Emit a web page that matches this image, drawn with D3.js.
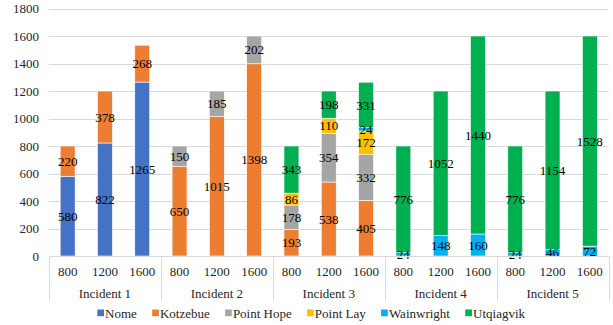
<!DOCTYPE html>
<html>
<head>
<meta charset="utf-8">
<script src="https://cdn.jsdelivr.net/npm/d3@7"></script>
<style>
  html, body { margin: 0; padding: 0; background: #fff; }
  svg, svg text { font-family: 'Liberation Serif', 'Times New Roman', Times, serif; }
</style>
</head>
<body>
<svg id="chart" width="613" height="325"></svg>
<script>
// Incidents and the response sizes tested in each
const incidents = ["Incident 1", "Incident 2", "Incident 3", "Incident 4", "Incident 5"];
const sizes = ["800", "1200", "1600"];
const seriesNames = ["Nome", "Kotzebue", "Point Hope", "Point Lay", "Wainwright", "Utqiagvik"];
const seriesColors = ["#4472C4", "#ED7D31", "#A5A5A5", "#FFC000", "#00B0F0", "#00B050"];

// Values per bar, ordered Incident 1 (800, 1200, 1600) ... Incident 5 (800, 1200, 1600)
const nome       = [580, 822, 1265,   0,    0,    0,   0,   0,   0,   0,    0,    0,   0,    0,    0];
const kotzebue   = [220, 378,  268, 650, 1015, 1398, 193, 538, 405,   0,    0,    0,   0,    0,    0];
const pointHope  = [  0,   0,    0, 150,  185,  202, 178, 354, 332,   0,    0,    0,   0,    0,    0];
const pointLay   = [  0,   0,    0,   0,    0,    0,  86, 110, 172,   0,    0,    0,   0,    0,    0];
const wainwright = [  0,   0,    0,   0,    0,    0,   0,   0,  24,  24,  148,  160,  24,   46,   72];
const utqiagvik  = [  0,   0,    0,   0,    0,    0, 343, 198, 331, 776, 1052, 1440, 776, 1154, 1528];

const yTicks = [0, 200, 400, 600, 800, 1000, 1200, 1400, 1600, 1800];

const seriesValues = [nome, kotzebue, pointHope, pointLay, wainwright, utqiagvik];
const FONT = "'Liberation Serif', 'Times New Roman', Times, serif";

// Build one row per bar for the stack layout
const rows = [];
incidents.forEach((inc, gi) => {
  sizes.forEach((sz, si) => {
    const idx = gi * sizes.length + si;
    const row = { incident: inc, size: sz };
    seriesNames.forEach((name, k) => { row[name] = seriesValues[k][idx]; });
    rows.push(row);
  });
});

const svg = d3.select("#chart").attr("font-family", FONT);
const plot = { left: 49, right: 608.5, top: 8.5, bottom: 256 };

const y = d3.scaleLinear().domain([0, 1800]).range([plot.bottom, plot.top]);
const xGroup = d3.scaleBand().domain(incidents).range([plot.left, plot.right]).padding(0);
const xSize = d3.scaleBand().domain(sizes).range([0, xGroup.bandwidth()]).paddingInner(0.6).paddingOuter(0.3);

// Horizontal gridlines
svg.append("g")
  .selectAll("line")
  .data(yTicks)
  .join("line")
  .attr("x1", plot.left)
  .attr("x2", plot.right)
  .attr("y1", d => Math.round(y(d)) + 0.5)
  .attr("y2", d => Math.round(y(d)) + 0.5)
  .attr("stroke", "#d9d9d9")
  .attr("stroke-width", 1);

// Value axis labels
const yAxis = d3.axisLeft(y).tickValues(yTicks).tickFormat(d3.format("d")).tickSize(0).tickPadding(0);
const yAxisG = svg.append("g")
  .attr("transform", `translate(${plot.left - 10},0)`)
  .call(yAxis)
  .attr("font-family", FONT)
  .attr("font-size", 13);
yAxisG.select(".domain").remove();
yAxisG.selectAll("text")
  .attr("fill", "#262626");

// Stacked bars
const stack = d3.stack().keys(seriesNames);
const layers = stack(rows);

const barX = d => xGroup(d.data.incident) + xSize(d.data.size);

const layerG = svg.append("g")
  .selectAll("g")
  .data(layers)
  .join("g")
  .attr("fill", (d, i) => seriesColors[i]);

layerG.selectAll("rect")
  .data(d => d.filter(p => p[1] - p[0] > 0))
  .join("rect")
  .attr("x", barX)
  .attr("width", xSize.bandwidth())
  .attr("y", d => y(d[1]))
  .attr("height", d => y(d[0]) - y(d[1]))
  .attr("stroke", "#ffffff")
  .attr("stroke-width", 0.6);

// Data labels centred in each segment
const labelG = svg.append("g").attr("font-family", FONT).attr("font-size", 13);
layers.forEach(layer => {
  layer.filter(p => p[1] - p[0] > 0).forEach(p => {
    labelG.append("text")
      .attr("x", barX(p) + xSize.bandwidth() / 2)
      .attr("y", (y(p[0]) + y(p[1])) / 2)
      .attr("dy", "0.35em")
      .attr("text-anchor", "middle")
      .attr("fill", "#000")
      .text(p[1] - p[0]);
  });
});

// Category axis: baseline, group separators, size and incident labels
const axisColor = "#d9d9d9";
svg.append("line")
  .attr("x1", plot.left).attr("x2", plot.right)
  .attr("y1", plot.bottom + 0.5).attr("y2", plot.bottom + 0.5)
  .attr("stroke", axisColor);

const boundaries = incidents.map(inc => xGroup(inc)).concat([plot.right]);
svg.append("g")
  .selectAll("line")
  .data(boundaries)
  .join("line")
  .attr("x1", d => Math.round(d) + 0.5)
  .attr("x2", d => Math.round(d) + 0.5)
  .attr("y1", plot.bottom)
  .attr("y2", 300.5)
  .attr("stroke", axisColor);

const tickG = svg.append("g").attr("font-family", FONT).attr("font-size", 13).attr("fill", "#262626");
incidents.forEach(inc => {
  sizes.forEach(sz => {
    tickG.append("text")
      .attr("x", xGroup(inc) + xSize(sz) + xSize.bandwidth() / 2)
      .attr("y", 271)
      .attr("dy", "0.35em")
      .attr("text-anchor", "middle")
      .text(sz);
  });
  tickG.append("text")
    .attr("x", xGroup(inc) + xGroup.bandwidth() / 2)
    .attr("y", 293.5)
    .attr("dy", "0.35em")
    .attr("text-anchor", "middle")
    .text(inc);
});

// Legend
const legend = svg.append("g").attr("font-family", FONT).attr("font-size", 13);
let lx = 97.3;
seriesNames.forEach((name, i) => {
  legend.append("rect")
    .attr("x", lx).attr("y", 309.5)
    .attr("width", 6.7).attr("height", 6.7)
    .attr("fill", seriesColors[i]);
  const t = legend.append("text")
    .attr("x", lx + 7.8)
    .attr("y", 313.5)
    .attr("dy", "0.35em")
    .attr("fill", "#262626")
    .text(name);
  lx += 7.8 + t.node().getComputedTextLength() + 15.3;
});
</script>
</body>
</html>
